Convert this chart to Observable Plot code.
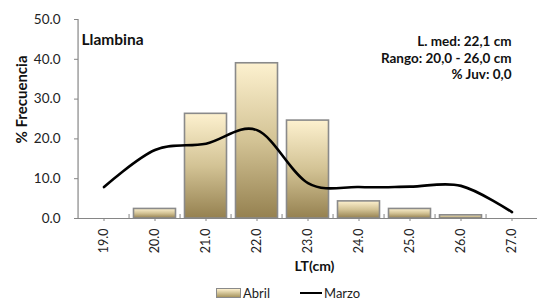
<!DOCTYPE html>
<html>
<head>
<meta charset="utf-8">
<script src="https://cdn.jsdelivr.net/npm/d3@7"></script>
<script src="https://cdn.jsdelivr.net/npm/@observablehq/plot@0.6"></script>
<style>
  html, body { margin: 0; padding: 0; background: #fff; }
  body { width: 537px; height: 305px; overflow: hidden; font-family: Lato, "Liberation Sans", sans-serif; }
  #chart svg { display: block; }
  #legend { position: relative; height: 23px; font-size: 13px; color: #222; }
  .item { position: absolute; top: 4px; display: flex; align-items: center; height: 14px; }
  .sw { width: 23px; height: 8px; border: 1px solid #8a8a8a; background: linear-gradient(#fdf1cf, #a8965f); margin-right: 2px; }
  .ln { width: 22px; height: 0; border-top: 2.5px solid #000; margin-right: 2px; }
</style>
</head>
<body>
<div id="chart"></div>
<div id="legend">
  <div class="item" style="left:216px"><span class="sw"></span><span>Abril</span></div>
  <div class="item" style="left:300px"><span class="ln"></span><span>Marzo</span></div>
</div>
<script>
const categories = ["19.0","20.0","21.0","22.0","23.0","24.0","25.0","26.0","27.0"];
const abril = [0, 2.4, 26.3, 39.0, 24.6, 4.3, 2.4, 0.8, 0];
const marzo = [7.9, 17.2, 18.8, 22.2, 8.9, 7.9, 8.0, 8.2, 1.6];
const yTicks = [0, 10, 20, 30, 40, 50];
const title = "Llambina";
const note = "L. med: 22,1 cm\nRango: 20,0 - 26,0 cm\n% Juv: 0,0";

const barData = categories.map((c, i) => ({lt: c, v: abril[i]}));
const lineData = categories.map((c, i) => ({lt: c, v: marzo[i]}));

const W = 537, H = 282, ML = 74, MR = -4, MT = 19, MB = 64;
const step = (W - ML - MR) / categories.length;
const axisGray = "#868686";
const font = "Lato, 'Liberation Sans', sans-serif";

const plot = Plot.plot({
  width: W, height: H,
  marginLeft: ML, marginRight: MR, marginTop: MT, marginBottom: MB,
  style: {fontFamily: font, fontSize: "12px", color: "#222", background: "#fff"},
  x: {type: "band", domain: categories, padding: 0, label: null},
  y: {domain: [0, 50], label: null},
  marks: [
    Plot.barY(barData, {x: "lt", y: "v", fill: "url(#barGrad)", stroke: "#8a8a8a", strokeWidth: 1.6, insetLeft: 4.5, insetRight: 4.5,
      filter: d => d.v > 0}),
    Plot.ruleY([0], {stroke: axisGray, strokeWidth: 1.2}),
    Plot.ruleX([categories[0]], {y1: 0, y2: 50, dx: -step / 2, stroke: axisGray, strokeWidth: 1.2}),
    Plot.axisY({ticks: yTicks, tickSize: 0, tickPadding: 14, tickFormat: d => d.toFixed(1), label: null, fontSize: 13.5, fill: "#222"}),
    Plot.axisY({ticks: yTicks, tickSize: 4, dx: 4, tickFormat: () => "", label: null, stroke: axisGray}),
    Plot.axisX({tickSize: 3, tickRotate: -90, tickPadding: 7, label: null, fontSize: 12.5, stroke: axisGray, fill: "#222"}),
    Plot.axisX(categories.slice(1), {tickSize: 4, dy: -4, dx: -step / 2, tickFormat: () => "", label: null, stroke: axisGray}),
    Plot.line(lineData, {x: "lt", y: "v", curve: "cardinal", stroke: "#000", strokeWidth: 2.6}),
    Plot.text([title], {frameAnchor: "top-left", dx: 7, dy: 14, textAnchor: "start", fontWeight: "bold", fontSize: 15.5, fill: "#111"}),
    Plot.text([note], {frameAnchor: "top-right", dx: -30, dy: 38, textAnchor: "end", lineAnchor: "middle", lineHeight: 1.23, fontWeight: "bold", fontSize: 13.5, fill: "#111"}),
    Plot.text(["% Frecuencia"], {frameAnchor: "left", dx: -52, dy: -19.5, textAnchor: "middle", rotate: -90, fontWeight: "bold", fontSize: 15, fill: "#111"}),
    Plot.text(["LT(cm)"], {frameAnchor: "bottom", dx: 6.5, dy: 52, textAnchor: "middle", fontWeight: "bold", fontSize: 14, fill: "#111"})
  ]
});

const svg = d3.select(plot);
const grad = svg.insert("defs", ":first-child").append("linearGradient")
  .attr("id", "barGrad").attr("x1", 0).attr("y1", 0).attr("x2", 0).attr("y2", 1);
grad.append("stop").attr("offset", "0%").attr("stop-color", "#fdf1cf");
grad.append("stop").attr("offset", "50%").attr("stop-color", "#d3c395");
grad.append("stop").attr("offset", "100%").attr("stop-color", "#958150");
svg.style("overflow", "visible");
document.getElementById("chart").appendChild(plot);
</script>
</body>
</html>
